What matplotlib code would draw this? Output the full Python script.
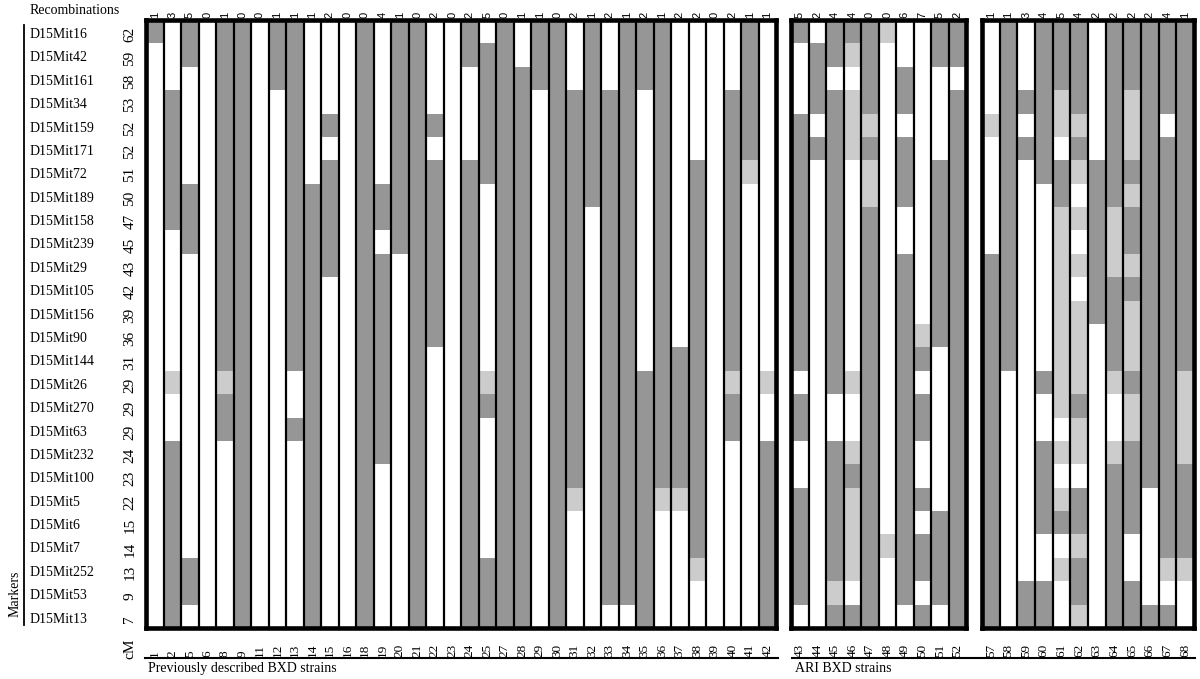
import numpy as np
import matplotlib
matplotlib.use('Agg')
import matplotlib.pyplot as plt
import matplotlib.transforms as mtransforms
from matplotlib.colors import ListedColormap
from matplotlib.lines import Line2D

plt.rcParams['font.family'] = ['Liberation Serif', 'DejaVu Serif']

markers = ['D15Mit16', 'D15Mit42', 'D15Mit161', 'D15Mit34', 'D15Mit159', 'D15Mit171',
           'D15Mit72', 'D15Mit189', 'D15Mit158', 'D15Mit239', 'D15Mit29', 'D15Mit105',
           'D15Mit156', 'D15Mit90', 'D15Mit144', 'D15Mit26', 'D15Mit270', 'D15Mit63',
           'D15Mit232', 'D15Mit100', 'D15Mit5', 'D15Mit6', 'D15Mit7', 'D15Mit252',
           'D15Mit53', 'D15Mit13']
cm_pos = [62, 59, 58, 53, 52, 52, 51, 50, 47, 45, 43, 42, 39, 36, 31, 29, 29, 29,
          24, 23, 22, 15, 14, 13, 9, 7]

# genotype per strain, top marker first: W = white, G = grey, L = light grey
strains_prev = [1, 2, 5, 6, 8, 9, 11, 12, 13, 14, 15, 16, 18, 19, 20, 21, 22, 23,
                24, 25, 27, 28, 29, 30, 31, 32, 33, 34, 35, 36, 37, 38, 39, 40, 41, 42]
recomb_prev = [1, 3, 5, 0, 1, 0, 0, 1, 1, 1, 2, 0, 0, 4, 1, 0, 2, 0,
               2, 5, 0, 1, 1, 0, 2, 1, 2, 1, 2, 1, 2, 2, 0, 2, 1, 1]
geno_prev = [
    "GWWWW WWWWW WWWWW WWWWW WWWWW W",  # 1
    "WWWGG GGGGW WWWWW LWWGG GGGGG G",  # 2
    "GGWWW WWGGG WWWWW WWWWW WWWGG W",  # 5
    "WWWWW WWWWW WWWWW WWWWW WWWWW W",  # 6
    "GGGGG GGGGG GGGGG LGGWW WWWWW W",  # 8
    "GGGGG GGGGG GGGGG GGGGG GGGGG G",  # 9
    "WWWWW WWWWW WWWWW WWWWW WWWWW W",  # 11
    "GGGWW WWWWW WWWWW WWWWW WWWWW W",  # 12
    "GGGGG GGGGG GGGGG WWGWW WWWWW W",  # 13
    "WWWWW WWGGG GGGGG GGGGG GGGGG G",  # 14
    "WWWWG WGGGG GWWWW WWWWW WWWWW W",  # 15
    "WWWWW WWWWW WWWWW WWWWW WWWWW W",  # 16
    "GGGGG GGGGG GGGGG GGGGG GGGGG G",  # 18
    "WWWWW WWGGW GGGGG GGGGW WWWWW W",  # 19
    "GGGGG GGGGG WWWWW WWWWW WWWWW W",  # 20
    "GGGGG GGGGG GGGGG GGGGG GGGGG G",  # 21
    "WWWWG WGGGG GGGGW WWWWW WWWWW W",  # 22
    "WWWWW WWWWW WWWWW WWWWW WWWWW W",  # 23
    "GGWWW WGGGG GGGGG GGGGG GGGGG G",  # 24
    "WGGGG GGWWW WWWWW LGWWW WWWGG G",  # 25
    "GGGGG GGGGG GGGGG GGGGG GGGGG G",  # 27
    "WWGGG GGGGG GGGGG GGGGG GGGGG G",  # 28
    "GGGWW WWWWW WWWWW WWWWW WWWWW W",  # 29
    "GGGGG GGGGG GGGGG GGGGG GGGGG G",  # 30
    "WWWGG GGGGG GGGGG GGGGG LWWWW W",  # 31
    "GGGGG GGGWW WWWWW WWWWW WWWWW W",  # 32
    "WWWGG GGGGG GGGGG GGGGG GGGGG W",  # 33
    "GGGGG GGGGG GGGGG GGGGG GGGGG W",  # 34
    "GGGWW WWWWW WWWWW GGGGG GGGGG G",  # 35
    "GGGGG GGGGG GGGGG GGGGG LWWWW W",  # 36
    "WWWWW WWWWW WWWWG GGGGG LWWWW W",  # 37
    "WWWWW WGGGG GGGGG GGGGG GGGLW W",  # 38
    "WWWWW WWWWW WWWWW WWWWW WWWWW W",  # 39
    "WWWGG GGGGG GGGGG LGGWW WWWWW W",  # 40
    "GGGGG GLWWW WWWWW WWWWW WWWWW W",  # 41
    "WWWWW WWWWW WWWWW LWWGG GGGGG G",  # 42
]

strains_ari1 = [43, 44, 45, 46, 47, 48, 49, 50, 51, 52]
recomb_ari1 = [5, 2, 4, 4, 0, 0, 6, 7, 5, 2]
geno_ari1 = [
    "GWWWG GGGGG GGGGG WGGWW GGGGG W",  # 43
    "WGGGW GWWWW WWWWW WWWWW WWWWW W",  # 44
    "GGWGG GGGGG GGGGG GWWGG GGGGL G",  # 45
    "GLWLL LWWWW WWWWW LWWLG LLLLW G",  # 46
    "GGGGL GLLGG GGGGG GGGGG GGGGG G",  # 47
    "LWWWW WWWWW WWWWW WWWWW WWLWW W",  # 48
    "WWGGW GGGWW GGGGG GGGGG GGGGG W",  # 49
    "WWWWW WWWWW WWWLG WGGWW GWGGW G",  # 50
    "GGWWW WGGGG GGGGW WWWWW WGGGG W",  # 51
    "GGWGG GGGGG GGGGG GGGGG GGGGG G",  # 52
]

strains_ari2 = [57, 58, 59, 60, 61, 62, 63, 64, 65, 66, 67, 68]
recomb_ari2 = [1, 1, 3, 4, 5, 4, 2, 2, 2, 2, 4, 1]
geno_ari2 = [
    "WWWWL WWWWW GGGGG GGGGG GGGGG G",  # 57
    "GGGGG GGGGG GGGGG WWWWW WWWWW W",  # 58
    "WWWGW GWWWW WWWWW WWWWW WWWWG G",  # 59
    "GGGGG GGWWW WWWWW GWWGG GGWWG G",  # 60
    "GGGLL WGGLL LLLLL LLWLW LGWLW W",  # 61
    "GGGGL GLWLW LWLLL LGLLW GGLGG L",  # 62
    "WWWWW WGGGG GGGWW WWWWW WWWWW W",  # 63
    "GGGGG GGGLL LGGGG LWWLG GGGGG G",  # 64
    "GGGLL LGLGG LGLLL GLLGG GGWWG G",  # 65
    "GGGGG GGGGG GGGGG GGGGG WWWWW G",  # 66
    "GGGGW GGGGG GGGGG GGGGG GGGLW G",  # 67
    "GGGGG GGGGG GGGGG LLLLG GGGLW W",  # 68
]

code = {'W': 0, 'G': 1, 'L': 2}
cmap = ListedColormap(['white', '#969696', '#cccccc'])


def to_matrix(cols):
    return np.array([[code[c] for c in s.replace(' ', '')] for s in cols]).T


fig = plt.figure(figsize=(12, 6.79), dpi=100)
bottom, height = 0.0751, 0.8954
panels = [
    (strains_prev, recomb_prev, geno_prev, 0.1217, 0.525),
    (strains_ari1, recomb_ari1, geno_ari1, 0.6592, 0.1458),
    (strains_ari2, recomb_ari2, geno_ari2, 0.8183, 0.1767),
]
nrow = len(markers)
axes = []
for strains, recomb, geno, left, width in panels:
    ax = fig.add_axes([left, bottom, width, height])
    mat = to_matrix(geno)
    n = len(strains)
    ax.pcolormesh(np.arange(n + 1), np.arange(nrow + 1), mat, cmap=cmap,
                  vmin=-0.5, vmax=2.5)
    ax.set_xlim(0, n)
    ax.set_ylim(nrow, 0)
    ax.vlines(np.arange(1, n), 0, nrow, color='black', lw=1.6)
    for sp in ax.spines.values():
        sp.set_linewidth(3.3)
    ax.set_xticks([])
    ax.set_yticks([])
    top = mtransforms.blended_transform_factory(ax.transData, ax.transAxes)
    bot = mtransforms.blended_transform_factory(ax.transData, fig.transFigure)
    for i, (s, r) in enumerate(zip(strains, recomb)):
        ax.text(i + 0.5, 1.004, str(r), transform=top, rotation=90, ha='center',
                va='bottom', fontsize=8, family='Liberation Sans')
        ax.text(i + 0.5, 0.033, str(s), transform=bot, rotation=90, ha='center',
                va='bottom', fontsize=9.5)
    axes.append(ax)

# marker names and cM positions on the left
lab = mtransforms.blended_transform_factory(fig.transFigure, axes[0].transData)
for i, (m, c) in enumerate(zip(markers, cm_pos)):
    fig.text(0.0242, i + 0.62, m, transform=lab, ha='left', va='center', fontsize=10)
    fig.text(0.1083, i + 0.62, str(c), transform=lab, ha='center', va='center',
             rotation=90, fontsize=11)

fig.text(0.0242, 0.984, 'Recombinations', ha='left', va='center', fontsize=10)
fig.text(0.0125, 0.125, 'Markers', ha='center', va='center', rotation=90, fontsize=10)
fig.text(0.1083, 0.045, 'cM', ha='center', va='center', rotation=90, fontsize=11)
fig.add_artist(Line2D([0.02, 0.02], [0.0795, 0.963], color='black', lw=1.3))

fig.add_artist(Line2D([0.1208, 0.6483], [0.0309, 0.0309], color='black', lw=1.5))
fig.add_artist(Line2D([0.66, 0.9958], [0.0309, 0.0309], color='black', lw=1.5))
fig.text(0.1233, 0.0162, 'Previously described BXD strains', ha='left', va='center',
         fontsize=10)
fig.text(0.6625, 0.0162, 'ARI BXD strains', ha='left', va='center', fontsize=10)

fig.savefig('out.png', dpi=100)
